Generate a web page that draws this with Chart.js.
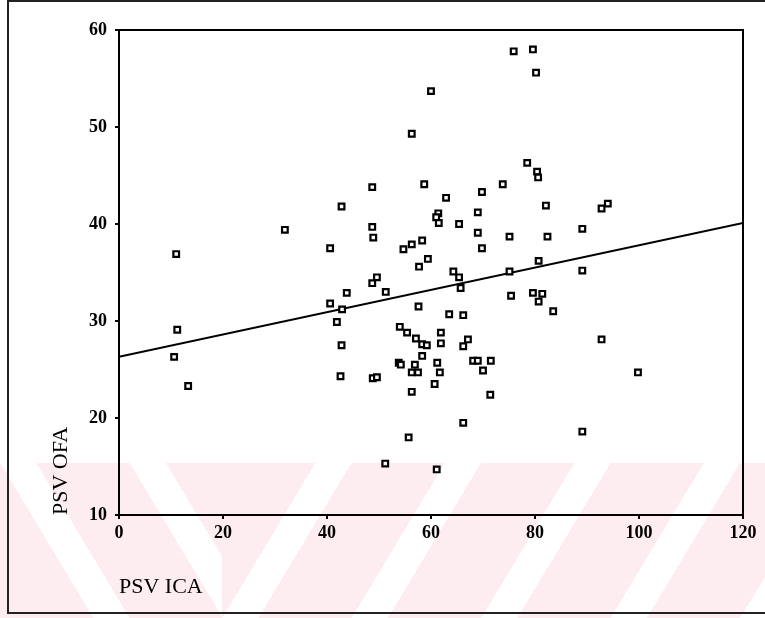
<!DOCTYPE html>
<html>
<head>
<meta charset="utf-8">
<script src="https://cdn.jsdelivr.net/npm/chart.js@4.4.0/dist/chart.umd.min.js"></script>
<style>
html,body{margin:0;padding:0;background:#fff;}
#wrap{position:relative;width:765px;height:618px;overflow:hidden;background:#fff;}
.band{position:absolute;top:463px;height:155px;}
#bandL{left:0;width:222px;background:repeating-linear-gradient(59deg,#fdedf0 0px,#fdedf0 80px,#ffffff 80px,#ffffff 111px);}
#bandR{left:222px;width:543px;background:repeating-linear-gradient(121deg,#fdedf0 0px,#fdedf0 80px,#ffffff 80px,#ffffff 111px);}
canvas{position:absolute;left:0;top:0;}
</style>
</head>
<body>
<div id="wrap">
  <div class="band" id="bandL"></div>
  <div class="band" id="bandR"></div>
  <canvas id="c" width="765" height="618"></canvas>
</div>
<script>
// Values
const psvICA = [11.0, 11.2, 10.6, 13.3, 31.9, 40.6, 42.8, 48.7, 48.7, 48.9,
  48.7, 49.6, 51.3, 43.8, 40.6, 42.9, 41.9, 42.8, 42.6, 48.8,
  49.6, 51.2, 54.0, 55.4, 57.1, 58.3, 59.2, 58.3, 53.8, 54.2,
  56.9, 56.3, 57.5, 56.3, 55.7, 57.6, 54.7, 56.3, 58.3, 57.7,
  59.4, 56.3, 60.0, 58.7, 62.9, 61.4, 61.0, 61.5, 65.4, 69.0,
  69.8, 73.8, 69.0, 69.8, 75.1, 82.4, 64.3, 65.4, 65.7, 63.5,
  66.2, 61.9, 61.9, 67.1, 66.2, 61.2, 61.7, 60.7, 68.1, 69.0,
  71.5, 70.0, 71.4, 66.2, 61.1, 75.9, 79.6, 80.2, 78.5, 80.4,
  80.6, 82.1, 80.7, 75.1, 75.4, 79.6, 81.4, 80.7, 83.5, 92.8,
  94.0, 89.1, 89.1, 92.8, 99.8, 89.1];
const psvOFA = [36.9, 29.1, 26.3, 23.3, 39.4, 37.5, 41.8, 43.8, 39.7, 38.6,
  33.9, 34.5, 33.0, 32.9, 31.8, 31.2, 29.9, 27.5, 24.3, 24.1,
  24.2, 15.3, 29.4, 28.8, 28.2, 27.6, 27.5, 26.4, 25.7, 25.5,
  25.5, 24.7, 24.7, 22.7, 18.0, 31.5, 37.4, 37.9, 38.3, 35.6,
  36.4, 49.3, 53.7, 44.1, 42.7, 41.1, 40.7, 40.1, 40.0, 41.2,
  43.3, 44.1, 39.1, 37.5, 38.7, 38.7, 35.1, 34.5, 33.4, 30.7,
  30.6, 28.8, 27.7, 28.1, 27.4, 25.7, 24.7, 23.5, 25.9, 25.9,
  25.9, 24.9, 22.4, 19.5, 14.7, 57.8, 58.0, 55.6, 46.3, 45.4,
  44.8, 41.9, 36.2, 35.1, 32.6, 32.9, 32.8, 32.0, 31.0, 41.6,
  42.1, 39.5, 35.2, 28.1, 24.7, 18.6];
const fitLineX = [0, 120];
const fitLineY = [26.3, 40.1];
const xTickValues = [0, 20, 40, 60, 80, 100, 120];
const yTickValues = [10, 20, 30, 40, 50, 60];
const xTitle = 'PSV ICA';
const yTitle = 'PSV OFA';

const scatterData = psvICA.map((x, i) => ({x: x, y: psvOFA[i]}));
const lineData = fitLineX.map((x, i) => ({x: x, y: fitLineY[i]}));

const tickFont = {family: '"Liberation Serif", "Times New Roman", serif', size: 18, weight: 'bold'};
const titleFont = {family: '"Liberation Serif", "Times New Roman", serif', size: 22, weight: 'normal'};

const framePlugin = {
  id: 'frame',
  afterDraw(chart) {
    const ctx = chart.ctx;
    const a = chart.chartArea;
    ctx.save();
    ctx.strokeStyle = '#000';
    ctx.lineWidth = 2;
    ctx.strokeRect(a.left, a.top, a.right - a.left, a.bottom - a.top);
    // outer frame
    ctx.strokeStyle = '#222';
    ctx.lineWidth = 2;
    ctx.beginPath();
    ctx.moveTo(8, 0); ctx.lineTo(8, 613); ctx.lineTo(765, 613);
    ctx.moveTo(8, 1); ctx.lineTo(765, 1);
    ctx.stroke();
    ctx.restore();
  }
};

new Chart(document.getElementById('c'), {
  type: 'scatter',
  data: {
    datasets: [
      {
        type: 'scatter',
        label: 'PSV',
        data: scatterData,
        pointStyle: 'rect',
        pointRadius: 4.0,
        pointHoverRadius: 4.0,
        pointBorderWidth: 2.2,
        pointBorderColor: '#000',
        pointBackgroundColor: 'rgba(255,255,255,1)',
        order: 1
      },
      {
        type: 'line',
        label: 'fit',
        data: lineData,
        borderColor: '#000',
        borderWidth: 2,
        pointRadius: 0,
        fill: false,
        order: 2
      }
    ]
  },
  options: {
    responsive: false,
    animation: false,
    events: [],
    layout: {padding: {left: 0, top: 30, right: 22, bottom: 0}},
    plugins: {legend: {display: false}, tooltip: {enabled: false}},
    scales: {
      x: {
        type: 'linear',
        min: 0, max: 120,
        afterBuildTicks: s => { s.ticks = xTickValues.map(v => ({value: v})); },
        afterFit: s => { s.height = 103; },
        border: {display: false},
        grid: {display: true, drawOnChartArea: false, drawTicks: true, tickLength: 4, lineWidth: 2, color: '#000'},
        ticks: {color: '#000', font: tickFont, padding: 4, maxRotation: 0},
        title: {display: true, text: xTitle, align: 'start', color: '#000', font: titleFont, padding: {top: 0, bottom: 18}}
      },
      y: {
        type: 'linear',
        min: 10, max: 60,
        afterBuildTicks: s => { s.ticks = yTickValues.map(v => ({value: v})); },
        afterFit: s => { s.width = 119; },
        border: {display: false},
        grid: {display: true, drawOnChartArea: false, drawTicks: true, tickLength: 4, lineWidth: 2, color: '#000'},
        ticks: {color: '#000', font: tickFont, padding: 8},
        title: {display: true, text: yTitle, align: 'start', color: '#000', font: titleFont, padding: {top: 48, bottom: 0}}
      }
    }
  },
  plugins: [framePlugin]
});
</script>
</body>
</html>
